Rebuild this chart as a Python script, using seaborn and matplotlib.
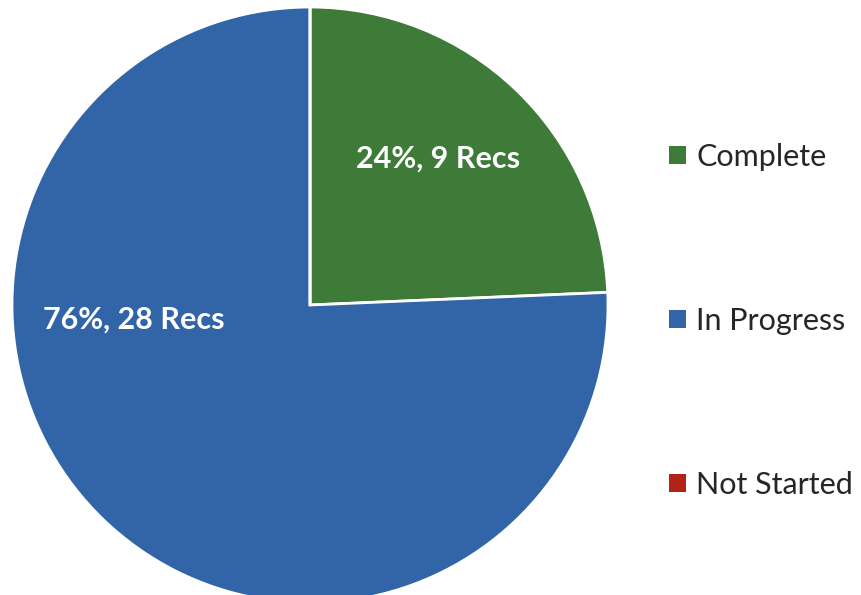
import matplotlib
matplotlib.use("Agg")
import matplotlib.pyplot as plt
from matplotlib.patches import Patch
import seaborn as sns

# data
statuses = ["Complete", "In Progress", "Not Started"]
recs = [9, 28, 0]
colors = ["#3E7B38", "#3165A8", "#B32216"]

sns.set_theme(style="white")
plt.rcParams["font.family"] = ["Lato", "DejaVu Sans"]

fig = plt.figure(figsize=(8.61, 5.95), dpi=100)
# pie axes placed so the circle is centred at (310, 305) px with radius 298 px
ax = fig.add_axes([12 / 861, (595 - 603) / 595, 596 / 861, 596 / 595])

wedges, _ = ax.pie(recs, colors=colors, startangle=90, counterclock=False,
                   wedgeprops=dict(edgecolor="white", linewidth=2))
ax.set_xlim(-1, 1)
ax.set_ylim(-1, 1)
ax.set_aspect("auto")
ax.axis("off")

total = sum(recs)
label_pos = [(0.43, 0.49), (-0.59, -0.05), None]
for n, pos in zip(recs, label_pos):
    if pos is None or n == 0:
        continue
    ax.text(pos[0], pos[1], f"{round(n / total * 100)}%, {n} Recs",
            color="white", fontsize=22, fontweight="bold",
            ha="center", va="center")

handles = [Patch(facecolor=c, edgecolor="none") for c in colors]
fig.legend(handles, statuses, loc="center left", bbox_to_anchor=(0.777, 0.461),
           frameon=False, fontsize=22, labelspacing=4.45,
           borderpad=0, borderaxespad=0,
           handlelength=0.55, handleheight=0.55, handletextpad=0.34)

fig.savefig("out.png", dpi=100)
